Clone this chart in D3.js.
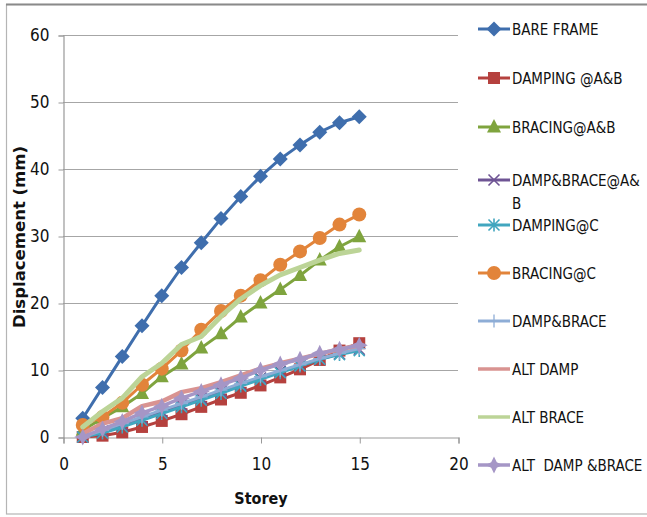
<!DOCTYPE html>
<html>
<head>
<meta charset="utf-8">
<script src="https://cdn.jsdelivr.net/npm/d3@7"></script>
<style>
  html, body { margin: 0; padding: 0; background: #fff; }
  svg { display: block; }
  text { font-family: "Liberation Sans Narrow", "Arial Narrow", "DejaVu Sans Condensed", sans-serif; fill: #111; white-space: pre; }
</style>
</head>
<body>
<script>
// Storey numbers (x values)
const storeys = [1, 2, 3, 4, 5, 6, 7, 8, 9, 10, 11, 12, 13, 14, 15];

// Displacement (mm) per storey for each configuration
const bareFrame      = [2.8, 7.4, 12.0, 16.6, 21.1, 25.3, 29.0, 32.6, 35.9, 38.9, 41.5, 43.6, 45.5, 46.9, 47.8];
const dampingAB      = [0.0, 0.2, 0.7, 1.5, 2.4, 3.4, 4.5, 5.6, 6.6, 7.7, 8.9, 10.1, 11.5, 12.9, 14.0];
const bracingAB      = [1.0, 2.8, 4.5, 6.5, 9.0, 10.9, 13.3, 15.4, 17.9, 20.0, 22.0, 24.1, 26.4, 28.4, 29.9];
const dampBraceAB    = [0.0, 0.9, 1.8, 2.8, 3.8, 4.8, 5.8, 6.8, 7.8, 8.8, 9.8, 10.7, 11.6, 12.4, 13.1];
const dampingC       = [0.0, 0.6, 1.5, 2.5, 3.5, 4.5, 5.5, 6.5, 7.6, 8.6, 9.6, 10.6, 11.6, 12.3, 12.9];
const bracingC       = [1.8, 3.0, 5.1, 7.8, 10.2, 12.9, 16.0, 18.8, 21.1, 23.4, 25.7, 27.7, 29.7, 31.7, 33.2];
const dampBrace      = [0.0, 1.0, 2.0, 3.0, 4.0, 5.0, 6.0, 7.0, 8.0, 9.0, 9.9, 10.8, 11.7, 12.5, 13.2];
const altDamp        = [0.5, 2.0, 2.8, 4.6, 5.3, 6.7, 7.3, 8.2, 9.2, 10.2, 11.0, 11.7, 12.4, 13.1, 13.7];
const altBrace       = [1.5, 3.8, 5.8, 9.0, 11.0, 13.8, 15.0, 18.0, 20.6, 22.6, 24.2, 25.3, 26.4, 27.4, 27.9];
const altDampBrace   = [0.0, 1.2, 2.3, 3.6, 4.6, 5.8, 6.8, 7.8, 8.8, 10.0, 10.9, 11.6, 12.5, 13.1, 13.7];

// Legend labels, in drawing order
const seriesNames = ["BARE FRAME", "DAMPING @A&B", "BRACING@A&B", "DAMP&BRACE@A&B", "DAMPING@C",
                     "BRACING@C", "DAMP&BRACE", "ALT DAMP", "ALT BRACE", "ALT  DAMP &BRACE"];

// Axis ticks
const xTicks = [0, 5, 10, 15, 20];
const yTicks = [0, 10, 20, 30, 40, 50, 60];

const seriesValues = [bareFrame, dampingAB, bracingAB, dampBraceAB, dampingC,
                      bracingC, dampBrace, altDamp, altBrace, altDampBrace];

// Visual style per series
const styles = [
  { color: "#3F6EAD", width: 3,   marker: "diamond" },
  { color: "#B5413E", width: 3,   marker: "square" },
  { color: "#7FA43E", width: 3,   marker: "triangle" },
  { color: "#6E5494", width: 3,   marker: "cross" },
  { color: "#41A6BF", width: 3,   marker: "asterisk" },
  { color: "#E2843A", width: 3,   marker: "circle" },
  { color: "#8EADD6", width: 3,   marker: "plus" },
  { color: "#D99391", width: 4.5, marker: "none" },
  { color: "#BCD497", width: 5,   marker: "none" },
  { color: "#A596C6", width: 3.5, marker: "star4" }
];

const W = 647, H = 517;
const svg = d3.select("body").append("svg").attr("width", W).attr("height", H);

// Chart frame
svg.append("rect").attr("x", 6.5).attr("y", 4.5).attr("width", 700).attr("height", 509.5)
  .attr("fill", "#fff").attr("stroke", "#b5b5b5").attr("stroke-width", 1.2);
svg.append("line").attr("x1", 6).attr("x2", W).attr("y1", 4.5).attr("y2", 4.5)
  .attr("stroke", "#8a8a8a").attr("stroke-width", 1.8);

const x = d3.scaleLinear().domain([0, 20]).range([63, 458]);
const y = d3.scaleLinear().domain([0, 60]).range([437, 35]);

// Horizontal gridlines
svg.append("g").selectAll("line").data(yTicks.filter(d => d > 0)).join("line")
  .attr("x1", x(0)).attr("x2", x(20))
  .attr("y1", d => y(d) + 0.5).attr("y2", d => y(d) + 0.5)
  .attr("stroke", "#a6a6a6").attr("stroke-width", 1.2);

// Y axis
const yAxis = svg.append("g").attr("transform", `translate(${x(0) + 0.5},0.5)`)
  .call(d3.axisLeft(y).tickValues(yTicks).tickSize(5).tickPadding(9).tickFormat(d3.format("d")));
yAxis.select(".domain").attr("stroke", "#999").attr("stroke-width", 1.2);
yAxis.selectAll(".tick line").attr("stroke", "#999");
yAxis.selectAll(".tick text").attr("font-size", 17).attr("fill", "#111")
  .attr("font-family", "'Liberation Sans Narrow', 'Arial Narrow', 'DejaVu Sans Condensed', sans-serif");

// X axis
const xAxis = svg.append("g").attr("transform", `translate(0.5,${y(0) + 0.5})`)
  .call(d3.axisBottom(x).tickValues(xTicks).tickSize(6).tickPadding(14).tickFormat(d3.format("d")));
xAxis.select(".domain").attr("stroke", "#999").attr("stroke-width", 1.2);
xAxis.selectAll(".tick line").attr("stroke", "#999");
xAxis.selectAll(".tick text").attr("font-size", 17).attr("fill", "#111")
  .attr("font-family", "'Liberation Sans Narrow', 'Arial Narrow', 'DejaVu Sans Condensed', sans-serif");

// Axis titles
svg.append("text").attr("x", 261).attr("y", 504).attr("text-anchor", "middle")
  .attr("font-size", 16).attr("font-weight", "bold").text("Storey");
svg.append("text").attr("transform", "translate(25,237) rotate(-90)")
  .attr("text-anchor", "middle").attr("font-size", 15).attr("font-weight", "bold")
  .attr("textLength", 182).attr("lengthAdjust", "spacingAndGlyphs")
  .text("Displacement (mm)");

// Marker drawing
function drawMarker(g, type, color) {
  switch (type) {
    case "diamond":
      g.append("path").attr("d", "M0,-7.5L7.5,0L0,7.5L-7.5,0Z").attr("fill", color); break;
    case "square":
      g.append("rect").attr("x", -6).attr("y", -6).attr("width", 12).attr("height", 12).attr("fill", color); break;
    case "triangle":
      g.append("path").attr("d", "M0,-8L7,5.5L-7,5.5Z").attr("fill", color); break;
    case "circle":
      g.append("circle").attr("r", 7).attr("fill", color); break;
    case "cross":
      g.append("path").attr("d", "M-5.5,-5.5L5.5,5.5M-5.5,5.5L5.5,-5.5").attr("stroke", color).attr("stroke-width", 1.6); break;
    case "asterisk":
      g.append("path").attr("d", "M-5.5,-5.5L5.5,5.5M-5.5,5.5L5.5,-5.5M0,-6.5L0,6.5").attr("stroke", color).attr("stroke-width", 1.6); break;
    case "plus":
      g.append("path").attr("d", "M-6.5,0L6.5,0M0,-6.5L0,6.5").attr("stroke", color).attr("stroke-width", 1.3); break;
    case "star4":
      g.append("path").attr("d", "M0,-8.5L2.8,-2.8L8.5,0L2.8,2.8L0,8.5L-2.8,2.8L-8.5,0L-2.8,-2.8Z").attr("fill", color); break;
  }
}

const line = d3.line().x((d, i) => x(storeys[i])).y(d => y(d));

const plot = svg.append("g");
seriesValues.forEach((vals, si) => {
  const st = styles[si];
  const g = plot.append("g");
  g.append("path").datum(vals).attr("d", line)
    .attr("fill", "none").attr("stroke", st.color).attr("stroke-width", st.width)
    .attr("stroke-linejoin", "round").attr("stroke-linecap", "round");
  if (st.marker !== "none") {
    vals.forEach((v, i) => {
      const m = g.append("g").attr("transform", `translate(${x(storeys[i])},${y(v)})`);
      drawMarker(m, st.marker, st.color);
    });
  }
});

// Legend
const legendRows = [29, 78, 127, 180, 225, 273, 321, 369, 417, 465];
const legend = svg.append("g");
seriesNames.forEach((name, i) => {
  const st = styles[i];
  const cy = legendRows[i];
  const g = legend.append("g");
  g.append("line").attr("x1", 478).attr("x2", 510).attr("y1", cy).attr("y2", cy)
    .attr("stroke", st.color).attr("stroke-width", Math.min(st.width, 3.5));
  if (st.marker !== "none") {
    const m = g.append("g").attr("transform", `translate(494,${cy})`);
    drawMarker(m, st.marker, st.color);
  }
  const t = g.append("text").attr("x", 512).attr("y", cy + 5.5).attr("font-size", 15);
  if (name === "DAMP&BRACE@A&B") {
    t.text("DAMP&BRACE@A&");
    g.append("text").attr("x", 512).attr("y", cy + 28.5).attr("font-size", 15).text("B");
  } else {
    t.text(name);
  }
});
</script>
</body>
</html>
